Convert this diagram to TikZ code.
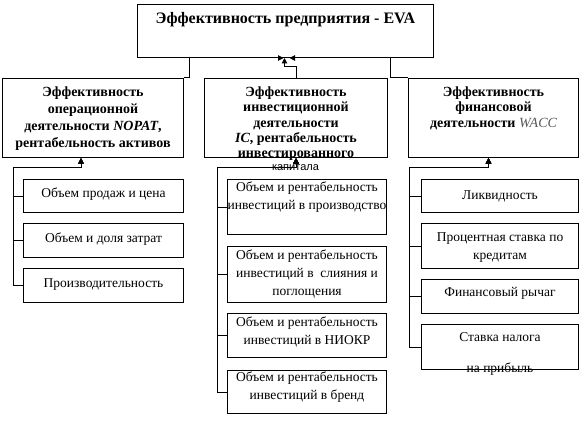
\documentclass[tikz,border=0pt]{standalone}
\usepackage{fontspec}
\setmainfont{Liberation Serif}
\newfontfamily\capfont{Liberation Sans}
\usetikzlibrary{positioning,calc,arrows.meta}

\begin{document}
\begin{tikzpicture}[x=1pt, y=-1pt,
    box/.style={draw, line width=1pt, inner sep=0pt, anchor=north west},
    head/.style={font=\fontsize{14}{15.3}\selectfont\bfseries, align=center, inner sep=0pt},
    item/.style={font=\fontsize{13.5}{18}\selectfont, align=center, inner sep=0pt},
    conn/.style={line width=1pt},
    arr/.style={conn, -{Triangle[length=5.5pt, width=5.5pt]}}
]
    \useasboundingbox (0,0) rectangle (580,425);

    % top level
    \node[box, minimum width=296pt, minimum height=53pt] (top) at (137,4) {};
    \node[font=\fontsize{16}{18}\selectfont\bfseries, inner sep=0pt, below=8pt of top.north] (toptxt) {Эффективность предприятия - EVA};

    % second level
    \node[box, minimum width=181pt, minimum height=79pt] (oper) at (2,78) {};
    \node[box, minimum width=183pt, minimum height=79pt] (inv) at (204,78) {};
    \node[box, minimum width=170pt, minimum height=79pt] (fin) at (408,78) {};

    \node[head, font=\fontsize{14}{17}\selectfont\bfseries, below=8.5pt of oper.north] (opertxt)
        {Эффективность\\операционной\\деятельности \textit{NOPAT},\\рентабельность активов};
    \node[head, below=8.5pt of inv.north] (invtxt)
        {Эффективность\\инвестиционной\\деятельности\\\textit{IC}, рентабельность\\инвестированного};
    \node[font=\fontsize{11}{13}\capfont, inner sep=0pt] (invcap) at (295.5,168) {капитала};
    \node[head, below=8.5pt of fin.north] (fintxt)
        {Эффективность\\финансовой\\деятельности {\mdseries\itshape\color{black!65}WACC}};

    \draw[arr] (oper.north east) -- ++(5,0) |- ([xshift=-2pt]top.south);
    \draw[arr] (fin.north west) -- ++(-18,0) |- ([xshift=4pt]top.south);
    \draw[arr] ([xshift=0.5pt]inv.north) -- ++(0,-11) -| ([xshift=-1pt]top.south);

    % operating factors
    \node[box, minimum width=160pt, minimum height=33pt] (o1) at (23,179) {};
    \node[box, minimum width=160pt, minimum height=34pt] (o2) at (23,223) {};
    \node[box, minimum width=160pt, minimum height=34pt] (o3) at (23,268) {};
    \node[item, below=9pt of o1.north] (o1t) {Объем продаж и цена};
    \node[item, below=10pt of o2.north] (o2t) {Объем и доля затрат};
    \node[item, below=10pt of o3.north] (o3t) {Производительность};

    \coordinate (oj) at (13,167);
    \foreach \b in {o1,o2,o3}
        \draw[arr] (\b.west) -| (oj) -| ([xshift=-12pt]oper.south);

    % investment factors
    \node[box, minimum width=159pt, minimum height=55pt] (i1) at (227,179) {};
    \node[box, minimum width=159pt, minimum height=56pt] (i2) at (227,246) {};
    \node[box, minimum width=159pt, minimum height=44pt] (i3) at (227,313) {};
    \node[box, minimum width=159pt, minimum height=43pt] (i4) at (227,370) {};
    \node[item, below=3pt of i1.north] (i1t) {Объем и рентабельность\\инвестиций в производство};
    \node[item, below=4pt of i2.north] (i2t) {Объем и рентабельность\\инвестиций в \ слияния и\\поглощения};
    \node[item, below=4pt of i3.north] (i3t) {Объем и рентабельность\\инвестиций в НИОКР};
    \node[item, below=2pt of i4.north] (i4t) {Объем и рентабельность\\инвестиций в бренд};

    \coordinate (ij) at (217,167);
    \foreach \b in {i1,i2,i3,i4}
        \draw[arr] (\b.west) -| (ij) -| (inv.south);

    % financial factors
    \node[box, minimum width=157pt, minimum height=33pt] (f1) at (421,179) {};
    \node[box, minimum width=157pt, minimum height=45pt] (f2) at (421,223) {};
    \node[box, minimum width=157pt, minimum height=34pt] (f3) at (421,279) {};
    \node[box, minimum width=157pt, minimum height=45pt] (f4) at (421,324) {};
    \node[item, below=11pt of f1.north] (f1t) {Ликвидность};
    \node[item, below=9pt of f2.north] (f2t) {Процентная ставка по\\кредитам};
    \node[item, below=8pt of f3.north] (f3t) {Финансовый рычаг};
    \node[item, below=8pt of f4.north] (f4t) {Ставка налога\\[13pt]на прибыль};

    \coordinate (fj) at (409,167);
    \foreach \b in {f1,f2,f3,f4}
        \draw[arr] (\b.west) -| (fj) -| ([xshift=-5pt]fin.south);
\end{tikzpicture}
\end{document}
